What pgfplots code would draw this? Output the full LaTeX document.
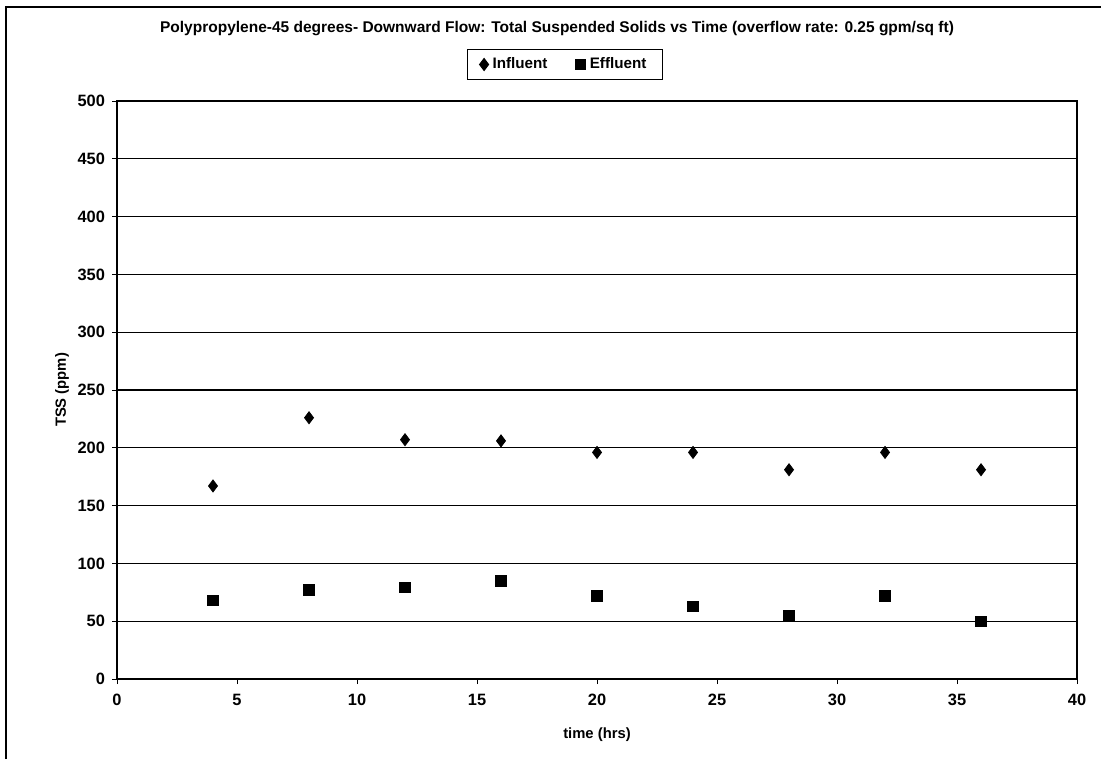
\documentclass[border=0pt]{standalone}
\usepackage{pgfplots}
\pgfplotsset{compat=1.18}
\usepackage{fontspec}
\setmainfont{Liberation Sans}
\begin{document}
\begin{tikzpicture}[x=1pt,y=1pt]
\useasboundingbox (0,0) rectangle (550.5,379.5);
\draw[line width=0.8pt] (3,0) -- (3,376) -- (550.5,376);
\begin{axis}[
  at={(58.5pt,40pt)}, anchor=south west,
  width=480pt, height=289pt, scale only axis,
  xmin=0, xmax=40, ymin=0, ymax=500,
  xtick={0,5,...,40}, ytick={0,50,...,500},
  xtick pos=bottom, ytick pos=left,
  tick align=outside, major tick length=2.5pt,
  tick style={black, line width=0.5pt},
  ymajorgrids, grid style={black, line width=0.6pt},
  axis line style={black, line width=0.6pt},
  /pgf/number format/assume math mode=true,
  tick label style={font=\fontsize{8.2}{9}\selectfont\bfseries},
  xticklabel style={yshift=-1.5pt},
  xlabel={time (hrs)}, ylabel={TSS (ppm)},
  label style={font=\fontsize{7.4}{8.5}\selectfont\bfseries},
  xlabel style={yshift=-4pt},
  ylabel style={yshift=-2.5pt},
  legend columns=2,
  legend style={at={(224pt,307.25pt)}, anchor=center, draw=black, line width=0.5pt,
    font=\fontsize{7.6}{9}\selectfont\bfseries, inner xsep=6pt, inner ysep=2.2pt,
    /tikz/every even column/.append style={column sep=12pt}},
  legend image code/.code={\draw[#1] plot coordinates {(0pt,0pt)};},
]
\addplot[only marks, mark=diamond*, mark size=3pt, black, mark options={fill=black}]
  coordinates {(4,167) (8,226) (12,207) (16,206) (20,196) (24,196) (28,181) (32,196) (36,181)};
\addlegendentry{Influent}
\addplot[only marks, mark=square*, mark size=2.6pt, black, mark options={fill=black}]
  coordinates {(4,68) (8,77) (12,79) (16,85) (20,72) (24,63) (28,55) (32,72) (36,50)};
\addlegendentry{Effluent}
\end{axis}
\node[font=\fontsize{7.75}{9}\selectfont\bfseries] at (278.5,365) {Polypropylene-45 degrees- Downward Flow: Total Suspended Solids vs Time (overflow rate: 0.25 gpm/sq ft)};
\end{tikzpicture}
\end{document}
